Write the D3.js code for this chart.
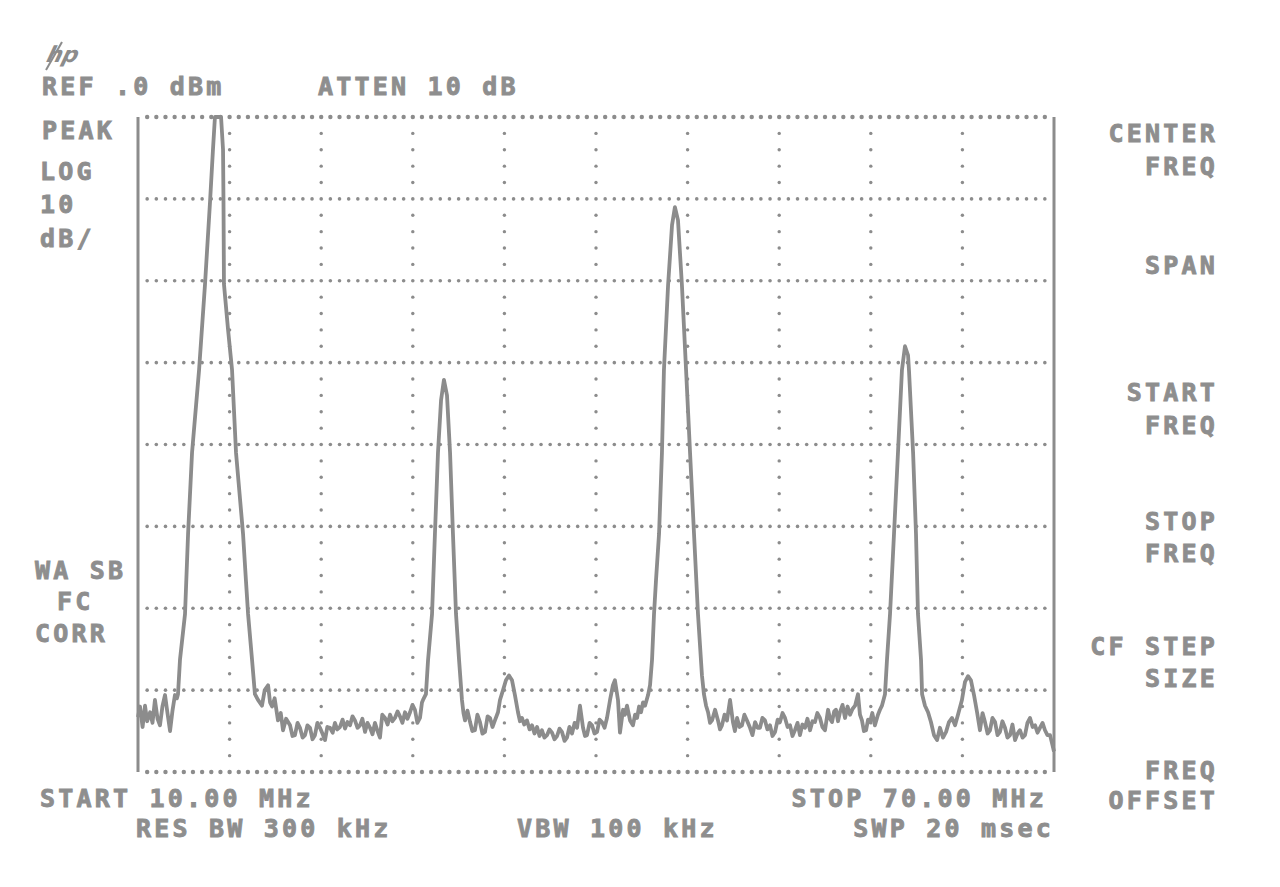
<!DOCTYPE html>
<html>
<head>
<meta charset="utf-8">
<script src="https://cdn.jsdelivr.net/npm/d3@7"></script>
<style>
  body { margin: 0; background: #fff; }
  svg { display: block; }
  .lbl { font-family: "DejaVu Sans Mono", monospace; font-weight: bold; font-size: 25px; fill: #8e8e8e;
         stroke: #8e8e8e; stroke-width: 0.9px; letter-spacing: 3.2px; }
</style>
</head>
<body>
<div id="chart"></div>
<script>
// sweep settings
const freqRange = [10, 70];      // MHz, start / stop
const levelRange = [-80, 0];     // dBm, ref level 0, 10 dB/div
const xDivs = 10, yDivs = 8;

// measured trace, [MHz, dBm]
const trace = [
  [10.00,-73.3],[10.13,-72.0],[10.30,-74.5],[10.46,-71.9],[10.60,-73.8],[10.79,-72.7],[10.95,-74.0],[11.11,-71.2],[11.28,-73.5],[11.44,-74.3],[11.60,-72.0],[11.77,-70.6],[11.93,-72.8],[12.10,-75.0],[12.26,-72.5],[12.42,-70.6],[12.55,-71.0],
  [12.62,-70.5],[12.75,-66.3],[13.08,-60.7],[13.28,-50.9],[13.54,-41.0],[14.00,-30.9],[14.39,-20.4],[14.72,-10.3],[14.91,-4.0],[15.04,0],[15.44,0],[15.57,-4.0],[15.60,-10.3],[15.63,-20.4],[15.90,-26.0],[16.16,-30.9],[16.42,-41.0],[16.88,-50.9],[17.07,-56.6],[17.21,-60.7],[17.47,-66.3],[17.66,-70.5],[17.86,-71.2],[18.12,-71.9],[18.30,-70.0],[18.52,-69.4],[18.65,-71.5],[18.78,-72.0],[18.95,-71.0],[19.17,-73.7],[19.35,-72.8],[19.50,-74.9],[19.70,-73.5],[19.96,-74.3],[20.12,-75.6],[20.28,-75.5],[20.45,-74.0],[20.61,-74.6],[20.78,-75.8],[20.94,-75.5],[21.10,-74.3],[21.27,-74.6],[21.43,-76.0],[21.59,-75.5],[21.75,-74.0],[21.92,-74.6],[22.08,-75.3],[22.25,-76.1],[22.40,-74.5],[22.58,-74.6],[22.75,-75.2],[22.90,-74.0],[23.05,-74.8],[23.23,-74.5],[23.40,-73.6],[23.56,-74.7],[23.72,-73.9],[23.89,-74.3],[24.05,-73.2],[24.21,-73.7],[24.38,-74.6],[24.54,-74.3],[24.70,-73.5],[24.87,-75.1],[25.03,-74.0],[25.20,-74.6],[25.36,-75.4],[25.52,-74.0],[25.69,-75.0],[25.85,-75.8],[26.00,-73.0],[26.18,-73.4],[26.35,-74.2],[26.51,-73.0],[26.67,-73.8],[26.83,-73.4],[27.00,-72.6],[27.16,-73.2],[27.32,-74.0],[27.49,-72.7],[27.65,-73.5],[27.82,-72.7],[27.98,-71.8],[28.14,-72.4],[28.30,-74.0],[28.47,-73.4],[28.60,-71.5],
  [28.67,-71.2],[28.86,-70.5],[29.00,-66.3],[29.26,-60.7],[29.45,-50.9],[29.65,-41.0],[29.85,-34.6],[30.04,-32.1],[30.24,-34.0],[30.44,-41.0],[30.63,-50.9],[30.83,-60.7],[31.03,-66.3],[31.22,-71.2],[31.32,-72.8],[31.42,-73.7],[31.58,-72.5],[31.75,-73.9],[31.90,-75.0],[32.07,-74.9],[32.23,-73.0],[32.40,-73.9],[32.56,-75.3],[32.73,-75.1],[32.90,-73.2],[33.06,-73.4],[33.22,-74.5],[33.38,-73.7],[33.58,-72.7],[33.71,-71.2],[33.91,-70.0],[34.10,-68.8],[34.30,-68.2],[34.50,-68.8],[34.69,-70.6],[34.89,-72.7],[35.02,-73.8],[35.15,-73.4],[35.30,-74.2],[35.48,-73.7],[35.65,-74.8],[35.81,-74.3],[35.97,-75.3],[36.14,-74.5],[36.30,-75.6],[36.46,-74.9],[36.62,-75.8],[36.79,-75.5],[36.95,-74.8],[37.12,-75.2],[37.28,-76.0],[37.45,-75.6],[37.61,-74.7],[37.77,-75.1],[37.94,-76.2],[38.10,-75.8],[38.26,-74.5],[38.43,-75.3],[38.60,-74.0],[38.76,-74.6],[38.95,-71.9],[39.15,-74.6],[39.28,-75.6],[39.41,-75.5],[39.58,-74.0],[39.74,-74.3],[39.90,-75.3],[40.07,-75.1],[40.23,-73.6],[40.39,-73.9],[40.56,-74.6],[40.72,-73.4],[40.92,-71.2],[41.11,-69.4],[41.24,-68.8],[41.44,-71.2],[41.57,-75.2],[41.77,-72.4],[41.90,-73.0],[42.03,-71.9],[42.23,-73.7],[42.42,-74.3],[42.56,-73.0],[42.69,-73.4],[42.82,-72.0],[42.95,-72.7],[43.08,-71.5],[43.21,-71.9],[43.41,-70.6],[43.54,-69.4],
  [43.67,-66.3],[43.80,-60.7],[43.93,-56.6],[44.13,-50.9],[44.32,-41.0],[44.45,-30.9],[44.72,-20.6],[44.98,-13.2],[45.17,-11.0],[45.37,-12.6],[45.63,-20.6],[45.90,-30.9],[46.16,-41.0],[46.42,-50.9],[46.68,-60.7],[46.94,-68.2],[47.07,-70.5],[47.21,-71.9],[47.34,-72.7],[47.47,-74.0],[47.60,-73.7],[47.80,-72.4],[47.99,-73.7],[48.12,-74.8],[48.25,-74.3],[48.42,-73.0],[48.58,-73.7],[48.78,-71.2],[48.97,-73.9],[49.10,-75.0],[49.24,-73.4],[49.40,-74.5],[49.56,-74.3],[49.72,-73.0],[49.89,-73.7],[50.09,-74.6],[50.25,-75.5],[50.42,-73.9],[50.58,-74.6],[50.74,-74.6],[50.90,-73.4],[51.07,-73.7],[51.23,-74.8],[51.40,-74.3],[51.56,-75.6],[51.73,-75.1],[51.90,-73.6],[52.05,-73.9],[52.22,-72.8],[52.38,-73.4],[52.55,-74.5],[52.71,-74.3],[52.87,-75.6],[53.03,-74.9],[53.20,-74.0],[53.36,-75.5],[53.52,-74.2],[53.69,-74.6],[53.85,-73.5],[54.02,-74.9],[54.18,-73.8],[54.34,-73.9],[54.50,-72.8],[54.67,-73.4],[54.83,-74.5],[55.00,-74.9],[55.20,-72.4],[55.33,-73.5],[55.46,-73.9],[55.60,-72.6],[55.72,-72.4],[55.85,-73.8],[55.98,-72.7],[56.15,-71.8],[56.31,-73.4],[56.48,-72.0],[56.64,-73.0],[56.80,-72.3],[56.97,-71.9],[57.16,-70.5],[57.29,-73.0],[57.42,-73.7],[57.55,-75.0],[57.69,-74.9],[57.82,-73.6],[57.95,-73.9],[58.10,-72.8],[58.27,-74.3],[58.47,-73.0],[58.60,-72.4],[58.73,-71.9],
  [58.93,-70.5],[59.06,-66.3],[59.26,-60.7],[59.52,-50.9],[59.78,-41.0],[60.04,-30.9],[60.24,-28.0],[60.44,-29.1],[60.50,-30.9],[60.77,-41.0],[60.96,-50.9],[61.09,-60.7],[61.29,-66.3],[61.36,-70.5],[61.55,-71.9],[61.75,-72.7],[61.94,-73.9],[62.14,-75.5],[62.34,-76.1],[62.53,-74.6],[62.73,-75.8],[62.93,-75.1],[63.12,-73.9],[63.32,-73.4],[63.52,-74.3],[63.71,-73.0],[63.97,-71.2],[64.17,-69.0],[64.37,-68.3],[64.56,-68.8],[64.76,-70.6],[64.96,-72.7],[65.15,-74.9],[65.32,-72.8],[65.48,-73.9],[65.65,-75.3],[65.81,-74.9],[65.97,-73.4],[66.14,-73.9],[66.30,-75.5],[66.46,-75.1],[66.62,-73.8],[66.79,-74.6],[66.95,-75.8],[67.12,-75.5],[67.28,-74.2],[67.45,-76.1],[67.61,-75.3],[67.77,-74.9],[67.94,-75.8],[68.10,-75.5],[68.26,-74.0],[68.43,-73.4],[68.60,-74.5],[68.76,-74.3],[68.92,-75.2],[69.08,-74.6],[69.25,-74.0],[69.41,-74.9],[69.57,-75.5],[69.74,-75.5],[69.90,-76.7],[70.00,-77.5]
];

// screen annotations
const topLabels = [["REF .0 dBm", 42, 95], ["ATTEN 10 dB", 318, 95]];
const leftLabels = [["PEAK", 42, 139], ["LOG", 40, 180], ["10", 40, 213], ["dB/", 40, 247],
                    ["WA SB", 35, 579], ["FC", 57, 610], ["CORR", 35, 642]];
const bottomLeft = [["START 10.00 MHz", 40, 807], ["RES BW 300 kHz", 136, 837], ["VBW 100 kHz", 517, 837]];
const bottomRight = [["STOP 70.00 MHz", 1047, 807], ["SWP 20 msec", 1054, 837]];
const softKeys = [["CENTER", 142], ["FREQ", 175], ["SPAN", 274], ["START", 401], ["FREQ", 434],
                  ["STOP", 530], ["FREQ", 562], ["CF STEP", 655], ["SIZE", 687], ["FREQ", 779], ["OFFSET", 809]];

const W = 1280, H = 887;
const margin = {top: 117, right: 226, bottom: 115, left: 138};
const gray = "#8c8c8c";

const svg = d3.select("#chart").append("svg")
    .attr("width", W).attr("height", H);

const x = d3.scaleLinear().domain(freqRange).range([margin.left, W - margin.right]);
const y = d3.scaleLinear().domain(levelRange).range([H - margin.bottom, margin.top]);

const xStep = (freqRange[1] - freqRange[0]) / xDivs;
const yStep = (levelRange[1] - levelRange[0]) / yDivs;
const xTicks = d3.range(xDivs + 1).map(i => freqRange[0] + i * xStep);
const yTicks = d3.range(yDivs + 1).map(i => levelRange[0] + i * yStep);

const grid = svg.append("g").attr("fill", gray);

// horizontal graticule: dense dots, 10 per division
const hDots = [];
yTicks.forEach(v => {
  d3.range(1, xDivs * 10).forEach(k => {
    hDots.push({cx: x(freqRange[0] + k * xStep / 10), cy: y(v), r: (v === levelRange[0] || v === levelRange[1]) ? 2.2 : 1.8});
  });
});
// vertical graticule: sparse dots, 5 per division
const vDots = [];
xTicks.slice(1, -1).forEach(f => {
  d3.range(1, yDivs * 5).forEach(k => {
    if (k % 5 !== 0) vDots.push({cx: x(f), cy: y(levelRange[0] + k * yStep / 5), r: 1.7});
  });
});
grid.selectAll("circle.h").data(hDots).enter().append("circle")
    .attr("class", "h").attr("cx", d => d.cx).attr("cy", d => d.cy).attr("r", d => d.r);
grid.selectAll("circle.v").data(vDots).enter().append("circle")
    .attr("class", "v").attr("cx", d => d.cx).attr("cy", d => d.cy).attr("r", d => d.r);

// solid side frame
svg.append("g").selectAll("line").data(freqRange).enter().append("line")
    .attr("x1", d => x(d)).attr("x2", d => x(d))
    .attr("y1", y(levelRange[1])).attr("y2", y(levelRange[0]))
    .attr("stroke", gray).attr("stroke-width", 3);

// trace
const line = d3.line().x(d => x(d[0])).y(d => y(d[1]));
svg.append("path").datum(trace)
    .attr("d", line)
    .attr("fill", "none")
    .attr("stroke", gray)
    .attr("stroke-width", 3.8)
    .attr("stroke-linejoin", "round");

// text
const addText = (rows, anchor) => svg.append("g").selectAll("text").data(rows).enter().append("text")
    .attr("class", "lbl").attr("x", d => d[1]).attr("y", d => d[2])
    .attr("text-anchor", anchor).text(d => d[0]);
addText(topLabels, "start");
addText(leftLabels, "start");
addText(bottomLeft, "start");
addText(bottomRight, "end");
addText(softKeys.map(d => [d[0], 1218, d[1]]), "end");

// hp logo
svg.append("text").attr("x", 46).attr("y", 62)
    .attr("font-family", "DejaVu Sans").attr("font-weight", "bold").attr("font-style", "italic")
    .attr("font-size", 22).attr("fill", gray).attr("transform", "skewX(-15) translate(16,0)")
    .text("hp");
svg.append("line").attr("x1", 46).attr("y1", 70).attr("x2", 62).attr("y2", 42)
    .attr("stroke", gray).attr("stroke-width", 2);
</script>
</body>
</html>
